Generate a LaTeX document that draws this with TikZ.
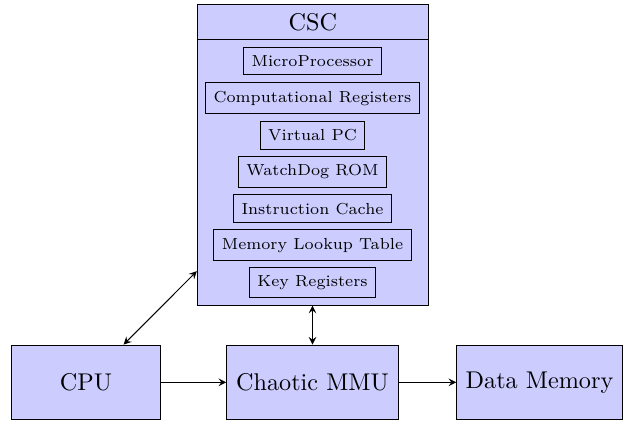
\documentclass[tikz,border=0pt]{standalone}
\usetikzlibrary{arrows}
\begin{document}
\begin{tikzpicture}[x=0.4132pt, y=-0.4132pt, >=stealth,
  bigbox/.style={draw, fill=blue!20, minimum height=30.8pt, inner sep=3.33pt},
  innerbox/.style={draw, fill=blue!20, font=\fontsize{6.6}{8}\selectfont},
  cscbox/.style={draw, fill=blue!20, minimum width=95.45pt, minimum height=124pt}]
\useasboundingbox (0,0) rectangle (628,422);
\node[cscbox] (csc) at (312.8,155) {};
\node (title) at (312.8,22) {CSC};
\coordinate (tl) at (197.3,39.3);
\coordinate (tr) at (428.3,39.3);
\draw (tl) -- (tr);
\node[innerbox] (mp) at (312.5,61.2) {MicroProcessor};
\node[innerbox] (cr) at (312.5,98.2) {Computational Registers};
\node[innerbox] (vpc) at (312.5,135.2) {Virtual PC};
\node[innerbox] (wd) at (312.5,171.7) {WatchDog ROM};
\node[innerbox] (ic) at (312.5,208.7) {Instruction Cache};
\node[innerbox] (mlt) at (312.5,245.2) {Memory Lookup Table};
\node[innerbox] (kr) at (312.5,282.2) {Key Registers};
\node[bigbox, minimum width=61.2pt] (cpu) at (86,382.3) {CPU};
\node[bigbox, minimum width=70.9pt] (mmu) at (312.5,382.3) {Chaotic MMU};
\node[bigbox, minimum width=68.4pt] (dm) at (539.5,382.3) {Data Memory};
\draw[->] (cpu) -- (mmu);
\draw[->] (mmu) -- (dm);
\draw[<->] (cpu) -- (csc);
\draw[<->] (csc.south -| mmu.north) -- (mmu.north);
\end{tikzpicture}
\end{document}
